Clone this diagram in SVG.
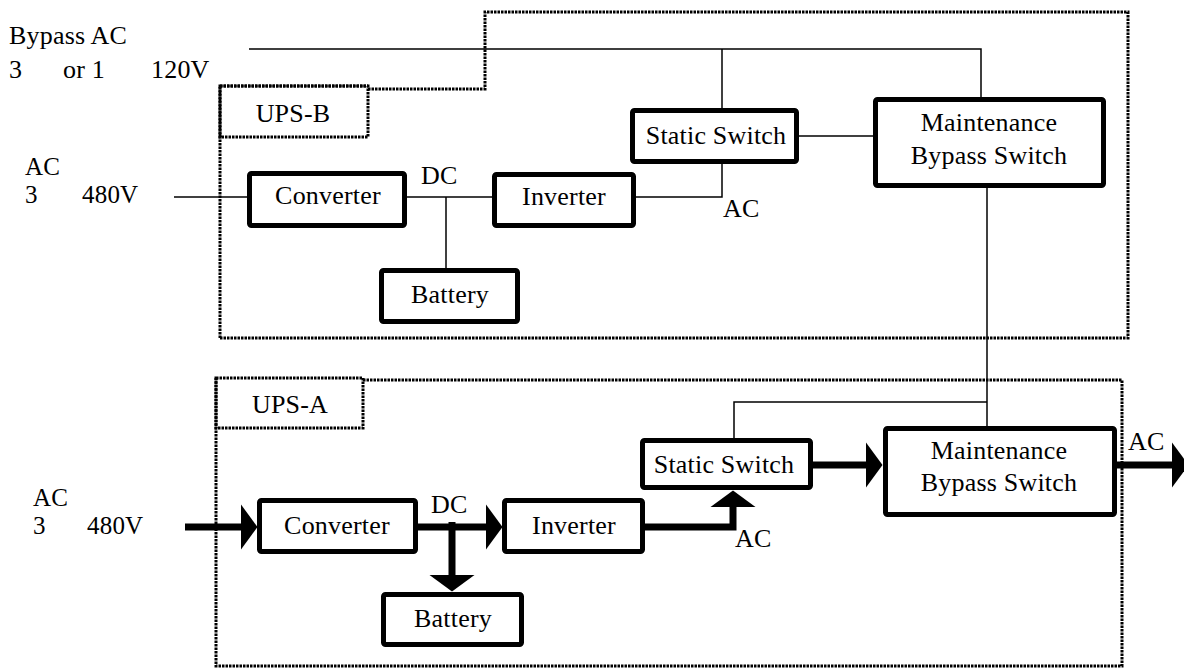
<svg xmlns="http://www.w3.org/2000/svg" width="1184" height="669" viewBox="0 0 1184 669">
<defs>
<style>
.box{fill:#fff;stroke:#000;stroke-width:5;stroke-linejoin:round}
.thin{fill:none;stroke:#000;stroke-width:1.5}
.thick{fill:none;stroke:#000;stroke-width:7;stroke-linejoin:miter}
.dot{fill:none;stroke:#000;stroke-width:3;stroke-dasharray:2.5 1}
.t{font-family:'Liberation Serif','Times New Roman',serif;font-size:26px;fill:#000;letter-spacing:0.2px}
.s{font-size:25px}
.c{text-anchor:middle}
</style>
<marker id="arr" markerUnits="userSpaceOnUse" markerWidth="17" markerHeight="46" refX="0" refY="22.5" orient="auto" viewBox="0 0 17 46" overflow="visible">
<path d="M0,0 L16.5,22.5 L0,45 Z" fill="#000"/>
</marker>
</defs>
<rect width="1184" height="669" fill="#fff"/>

<g id="frames">
<path class="dot" d="M220,338 V86 H368 M368,89 H485 V12 H1128 V338 H220"/>
<rect class="dot" x="220" y="86" width="148" height="51"/>
<path class="dot" d="M363,380 H1122 V666 H216 V378"/>
<rect class="dot" x="216" y="378" width="147" height="50"/>
</g>

<g id="labels" class="t">
<text x="9" y="44">Bypass AC</text>
<text x="9" y="78">3</text>
<text x="63" y="78">or 1</text>
<text x="151" y="78">120V</text>
<text class="s" x="25" y="175">AC</text>
<text class="s" x="25" y="203">3</text>
<text class="s" x="82" y="203">480V</text>
<text class="s" x="33" y="506">AC</text>
<text class="s" x="33" y="534">3</text>
<text class="s" x="87" y="534">480V</text>
<text class="c" x="293" y="122">UPS-B</text>
<text class="c" x="290" y="413">UPS-A</text>
<text x="421" y="184">DC</text>
<text x="723" y="217">AC</text>
<text x="431" y="513">DC</text>
<text x="735" y="547">AC</text>
<text x="1128" y="450">AC</text>
</g>

<g id="connectors">
<path class="thin" d="M249,49 H981 V97"/>
<path class="thin" d="M722,49 V108"/>
<path class="thin" d="M174,197 H247"/>
<path class="thin" d="M407,197 H492"/>
<path class="thin" d="M446,197 V268"/>
<path class="thin" d="M636,197 H722 V164"/>
<path class="thin" d="M799,136 H873"/>
<path class="thin" d="M987,188 V426"/>
<path class="thin" d="M734,438 V402 H987"/>
<path class="thick" d="M185,527 H241" marker-end="url(#arr)"/>
<path class="thick" d="M418,527 H486" marker-end="url(#arr)"/>
<path class="thick" d="M452,522 V575" marker-end="url(#arr)"/>
<path class="thick" d="M645,527 H733 V507" marker-end="url(#arr)"/>
<path class="thick" d="M813,465 H866" marker-end="url(#arr)"/>
<path class="thick" d="M1117,465 H1172" marker-end="url(#arr)"/>
</g>

<g id="converter-b"><rect class="box" x="249.5" y="173.5" width="155" height="52" rx="2"/><text class="t c" x="328" y="204">Converter</text></g>
<g id="inverter-b"><rect class="box" x="494.5" y="174.5" width="139" height="51" rx="2"/><text class="t c" x="564" y="205">Inverter</text></g>
<g id="battery-b"><rect class="box" x="381.5" y="270.5" width="136" height="51" rx="2"/><text class="t c" x="450" y="303">Battery</text></g>
<g id="static-switch-b"><rect class="box" x="632.5" y="110.5" width="164" height="51" rx="2"/><text class="t c" x="716" y="144">Static Switch</text></g>
<g id="maintenance-b"><rect class="box" x="875.5" y="99.5" width="228" height="86" rx="2"/><text class="t c" x="989" y="131">Maintenance</text><text class="t c" x="989" y="164">Bypass Switch</text></g>

<g id="converter-a"><rect class="box" x="259.5" y="500.5" width="156" height="51" rx="2"/><text class="t c" x="337" y="534">Converter</text></g>
<g id="inverter-a"><rect class="box" x="504.5" y="500.5" width="138" height="51" rx="2"/><text class="t c" x="574" y="534">Inverter</text></g>
<g id="battery-a"><rect class="box" x="383.5" y="594.5" width="138" height="50" rx="2"/><text class="t c" x="453" y="627">Battery</text></g>
<g id="static-switch-a"><rect class="box" x="642.5" y="440.5" width="168" height="47" rx="2"/><text class="t c" x="724" y="473">Static Switch</text></g>
<g id="maintenance-a"><rect class="box" x="885.5" y="428.5" width="229" height="86" rx="2"/><text class="t c" x="999" y="459">Maintenance</text><text class="t c" x="999" y="491">Bypass Switch</text></g>
</svg>
